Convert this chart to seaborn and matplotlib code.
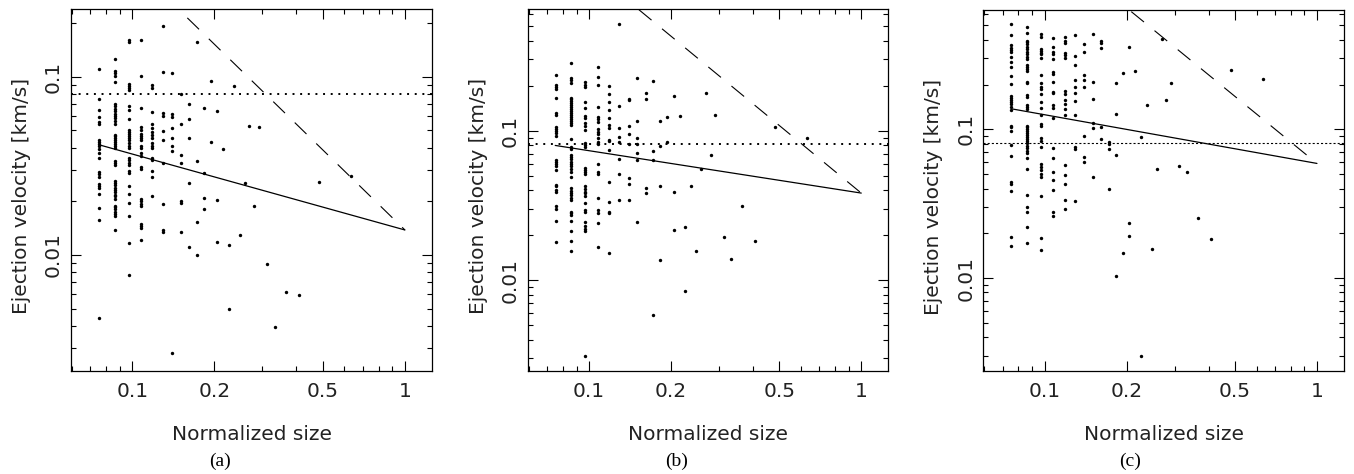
import matplotlib
matplotlib.use("Agg")
import numpy as np
import pandas as pd
import seaborn as sns
import matplotlib.pyplot as plt
from matplotlib.ticker import FixedLocator, FixedFormatter, NullFormatter, LogLocator

# ---------------- data ----------------
# normalized fragment sizes (discrete columns)
sizes = [0.0753, 0.0860, 0.0968, 0.1075, 0.1183, 0.1290, 0.1398, 0.1505, 0.1613,
         0.1720, 0.1828, 0.1935, 0.2043, 0.2151, 0.2258, 0.2366, 0.2473, 0.2581,
         0.2688, 0.2796, 0.2903, 0.3118, 0.3333, 0.3656, 0.4086, 0.4839, 0.6344]

# ejection velocities [km/s] per size column, panel (a)
vel_a = [
    [0.110, 0.0750, 0.0650, 0.0593, 0.0554, 0.0540, 0.0439, 0.0428, 0.0417, 0.0406, 0.0394,
     0.0373, 0.0352, 0.0291, 0.0284, 0.0275, 0.0251, 0.0243, 0.0237, 0.0219, 0.0184, 0.0158, 0.00441],
    [0.126, 0.108, 0.1044, 0.1004, 0.0933, 0.0702, 0.0681, 0.0661, 0.0639, 0.0620, 0.0601, 0.0583,
     0.0564, 0.0545, 0.0474, 0.0462, 0.0451, 0.0439, 0.0428, 0.0417, 0.0406, 0.0396, 0.0337, 0.0327,
     0.0318, 0.0261, 0.0254, 0.0246, 0.0237, 0.0231, 0.0224, 0.0218, 0.0213, 0.0206, 0.0189, 0.0185,
     0.0180, 0.0175, 0.0170, 0.0166, 0.0138],
    [0.160, 0.157, 0.0910, 0.0887, 0.0864, 0.0845, 0.0681, 0.0647, 0.0581, 0.0504, 0.0491, 0.0479,
     0.0466, 0.0454, 0.0443, 0.0424, 0.0411, 0.0399, 0.0351, 0.0339, 0.0329, 0.0321, 0.0297, 0.0289,
     0.0245, 0.0220, 0.0195, 0.0165, 0.0117, 0.00769],
    [0.161, 0.1004, 0.0664, 0.0519, 0.0504, 0.0477, 0.0464, 0.0452, 0.0439, 0.0410, 0.0397, 0.0371,
     0.0357, 0.0312, 0.0304, 0.0206, 0.0200, 0.0194, 0.0188, 0.0150, 0.0146, 0.0142, 0.0121],
    [0.0898, 0.0860, 0.0636, 0.0542, 0.0515, 0.0489, 0.0474, 0.0454, 0.0422, 0.0408, 0.0396, 0.0351,
     0.0342, 0.0295, 0.0272, 0.0213],
    [0.192, 0.1067, 0.0622, 0.0604, 0.0493, 0.0443, 0.0327, 0.0194, 0.0138, 0.0135],
    [0.1044, 0.0620, 0.0596, 0.0513, 0.0452, 0.0410, 0.0384, 0.00281],
    [0.0803, 0.0542, 0.0365, 0.0330, 0.0200, 0.0195, 0.0135],
    [0.0702, 0.0581, 0.0452, 0.0254, 0.0111],
    [0.157, 0.0337, 0.0153, 0.0100],
    [0.0667, 0.0289, 0.0209, 0.0181],
    [0.0942, 0.0430],
    [0.0641, 0.0203, 0.0118],
    [0.0394],
    [0.0114, 0.00495],
    [0.0887],
    [0.0130],
    [0.0253],
    [0.0529],
    [0.0189],
    [0.0519],
    [0.00887],
    [0.00393],
    [0.00622],
    [0.00596],
    [0.0255],
    [0.0279],
]

# panel (b)
vel_b = [
    [0.238, 0.201, 0.195, 0.190, 0.1655, 0.1313, 0.1273, 0.1053, 0.1026, 0.0995, 0.0965, 0.0917,
     0.0636, 0.0617, 0.0598, 0.0577, 0.0548, 0.0437, 0.0424, 0.0403, 0.0390, 0.0316, 0.0299, 0.0251, 0.0180],
    [0.285, 0.225, 0.219, 0.208, 0.167, 0.163, 0.158, 0.153, 0.1485, 0.144, 0.1396, 0.1354, 0.1313,
     0.1273, 0.1235, 0.1197, 0.1155, 0.1120, 0.1086, 0.0880, 0.0778, 0.0758, 0.0691, 0.0670, 0.0650,
     0.0620, 0.0601, 0.0577, 0.0554, 0.0534, 0.0494, 0.0413, 0.0398, 0.0382, 0.0369, 0.0354, 0.0342,
     0.0288, 0.0281, 0.0274, 0.0248, 0.0212, 0.0182, 0.0156],
    [0.212, 0.203, 0.196, 0.1556, 0.1418, 0.1260, 0.1209, 0.1126, 0.1080, 0.1016, 0.0827, 0.0802,
     0.0778, 0.0562, 0.0548, 0.0529, 0.0510, 0.0424, 0.0409, 0.0392, 0.0382, 0.0367, 0.0331, 0.0293,
     0.0284, 0.0247, 0.0229, 0.0220, 0.0213, 0.00310],
    [0.267, 0.229, 0.201, 0.1448, 0.1235, 0.1197, 0.1137, 0.1026, 0.0985, 0.0945, 0.0889, 0.0844,
     0.0818, 0.0598, 0.0529, 0.0515, 0.0354, 0.0293, 0.0281, 0.0241, 0.0168],
    [0.200, 0.177, 0.157, 0.1382, 0.1216, 0.1097, 0.1042, 0.0871, 0.0848, 0.0746, 0.0451, 0.0333,
     0.0285, 0.0280, 0.0152],
    [0.521, 0.1455, 0.1036, 0.0902, 0.0835, 0.0646, 0.0515, 0.0345],
    [0.163, 0.160, 0.1069, 0.0950, 0.0810, 0.0480, 0.0442, 0.0342],
    [0.224, 0.1167, 0.0898, 0.0810, 0.0709, 0.0636, 0.0245],
    [0.179, 0.163, 0.0417, 0.0382],
    [0.216, 0.0727, 0.0636, 0.00589],
    [0.1155, 0.0786, 0.0424, 0.0137],
    [0.1235, 0.0840],
    [0.171, 0.0392, 0.0216],
    [0.1247],
    [0.0228, 0.00849],
    [0.0424],
    [0.0156],
    [0.0554],
    [0.179],
    [0.0687],
    [0.1267],
    [0.0195],
    [0.0139],
    [0.0313],
    [0.0183],
    [0.1064],
    [0.0893],
]

# panel (c)
vel_c = [
    [0.511, 0.429, 0.367, 0.354, 0.343, 0.330, 0.308, 0.284, 0.264, 0.228, 0.203, 0.1675, 0.1625,
     0.1575, 0.1527, 0.148, 0.142, 0.1349, 0.1059, 0.1031, 0.0979, 0.0785, 0.0658, 0.0442, 0.0431,
     0.0385, 0.0190, 0.0164],
    [0.485, 0.442, 0.395, 0.385, 0.373, 0.360, 0.345, 0.333, 0.321, 0.308, 0.296, 0.272, 0.264,
     0.256, 0.247, 0.209, 0.204, 0.170, 0.166, 0.1458, 0.142, 0.1377, 0.1053, 0.1031, 0.1000, 0.0969,
     0.0940, 0.0911, 0.0884, 0.0857, 0.0831, 0.0805, 0.0773, 0.0745, 0.0719, 0.0690, 0.0638, 0.0544,
     0.0360, 0.0299, 0.0279, 0.0219, 0.0171],
    [0.436, 0.420, 0.347, 0.338, 0.328, 0.320, 0.300, 0.232, 0.204, 0.1936, 0.1877, 0.1729, 0.1535,
     0.1384, 0.1242, 0.1086, 0.1053, 0.0875, 0.0839, 0.0764, 0.0585, 0.0555, 0.0533, 0.0501, 0.0481,
     0.0354, 0.0187, 0.0154],
    [0.409, 0.360, 0.333, 0.320, 0.297, 0.242, 0.236, 0.209, 0.179, 0.1746, 0.1458, 0.1399, 0.1192,
     0.0753, 0.0641, 0.0516, 0.0456, 0.0391, 0.0278, 0.0261],
    [0.420, 0.393, 0.381, 0.325, 0.315, 0.303, 0.181, 0.172, 0.1575, 0.147, 0.1363, 0.1242, 0.0573,
     0.0491, 0.0431, 0.0333, 0.0293],
    [0.429, 0.313, 0.272, 0.215, 0.1917, 0.1755, 0.156, 0.1242, 0.0757, 0.0741, 0.0331],
    [0.373, 0.330, 0.233, 0.215, 0.1917, 0.0902, 0.0655, 0.0600],
    [0.440, 0.208, 0.160, 0.1097, 0.1021, 0.0481],
    [0.393, 0.379, 0.354, 0.1042, 0.0857],
    [0.0826, 0.0801, 0.0737, 0.0397],
    [0.206, 0.1274, 0.0676, 0.0103],
    [0.240, 0.0148],
    [0.360, 0.0233, 0.0192],
    [0.245],
    [0.0884, 0.00299],
    [0.1458],
    [0.0158],
    [0.0538],
    [0.403],
    [0.1575],
    [0.204],
    [0.0567],
    [0.0519],
    [0.0252],
    [0.0184],
    [0.249],
    [0.217],
]

# model lines (endpoints) per panel
solid_x = [[0.0754, 1.0], [0.0751, 1.0], [0.0763, 1.0]]
solid_y = [[0.0415, 0.0138], [0.0798, 0.0383], [0.137, 0.0590]]
dash_x = [[0.159, 1.0], [0.1524, 1.0], [0.208, 1.0]]
dash_y = [[0.214, 0.0138], [0.646, 0.0383], [0.619, 0.0590]]
hline_v = [0.0803, 0.0810, 0.0805]

ylims = [(0.00223, 0.240), (0.00247, 0.653), (0.00237, 0.635)]
xlim = (0.0595, 1.257)
captions = ["(a)", "(b)", "(c)"]

x_major = [0.1, 0.2, 0.5, 1.0]
x_major_labels = ["0.1", "0.2", "0.5", "1"]
x_minor = [0.06, 0.07, 0.08, 0.09, 0.3, 0.4, 0.6, 0.7, 0.8, 0.9]
y_major = [0.01, 0.1]
y_major_labels = ["0.01", "0.1"]

# ---------------- style ----------------
sns.set_style("ticks")
plt.rcParams["font.family"] = ["DejaVu Sans"]
plt.rcParams["lines.scale_dashes"] = False
TXT = "#222222"

W, H = 1354, 474
fig = plt.figure(figsize=(W / 100, H / 100), dpi=100)

ax_px = [(71, 432, 9, 371), (527.7, 888.3, 9, 371), (983.3, 1344, 10, 371)]
cap_x = [220, 676.7, 1130]
hline_styles = [dict(lw=1.4, ls=(0, (1.4, 4.1))),
                dict(lw=1.4, ls=(0, (1.4, 4.1))),
                dict(lw=0.8, ls=(0, (1.5, 1.5)))]

all_vels = [vel_a, vel_b, vel_c]

for i in range(3):
    l, r, t, b = ax_px[i]
    ax = fig.add_axes([l / W, (H - b) / H, (r - l) / W, (b - t) / H])
    ax.set_xscale("log")
    ax.set_yscale("log")

    xs, ys = [], []
    for sz, col in zip(sizes, all_vels[i]):
        xs += [sz] * len(col)
        ys += col
    df = pd.DataFrame({"size": xs, "vel": ys})

    sns.scatterplot(data=df, x="size", y="vel", ax=ax, color="black", s=6,
                    linewidth=0, legend=False, zorder=3)
    sns.lineplot(x=solid_x[i], y=solid_y[i], ax=ax, color="black", lw=0.9)
    ax.plot(dash_x[i], dash_y[i], color="black", lw=0.8, ls=(0, (11.8, 9.8)))
    ax.axhline(hline_v[i], color="black", solid_capstyle="butt",
               dash_capstyle="butt", **hline_styles[i])

    ax.set_xlim(*xlim)
    ax.set_ylim(*ylims[i])

    ax.xaxis.set_major_locator(FixedLocator(x_major))
    ax.xaxis.set_major_formatter(FixedFormatter(x_major_labels))
    ax.xaxis.set_minor_locator(FixedLocator(x_minor))
    ax.xaxis.set_minor_formatter(NullFormatter())
    ax.yaxis.set_major_locator(FixedLocator(y_major))
    ax.yaxis.set_major_formatter(FixedFormatter(y_major_labels))
    ax.yaxis.set_minor_locator(LogLocator(base=10, subs=np.arange(2, 10)))
    ax.yaxis.set_minor_formatter(NullFormatter())

    ax.tick_params(which="both", direction="in", top=True, right=True,
                   width=0.8, color="black", labelcolor=TXT, labelsize=14.5)
    ax.tick_params(which="major", length=7.2)
    ax.tick_params(which="minor", length=3.6)
    ax.tick_params(axis="x", pad=8.2)
    ax.tick_params(axis="y", pad=5.8, labelrotation=90)
    for lab in ax.get_yticklabels():
        lab.set_va("center")

    for sp in ax.spines.values():
        sp.set_linewidth(0.9)
        sp.set_color("black")

    ax.set_xlabel("Normalized size", fontsize=14.5, color=TXT)
    ax.xaxis.set_label_coords(0.5, -0.19)
    ax.xaxis.label.set_va("baseline")
    ax.set_ylabel("Ejection velocity [km/s]", fontsize=14.5, color=TXT)
    ax.yaxis.set_label_coords(-0.122, 0.483)
    ax.yaxis.label.set_va("baseline")

    fig.text(cap_x[i] / W, (H - 466) / H, captions[i], ha="center", va="baseline",
             family="Liberation Serif", fontsize=14, color="black")

fig.savefig("out.png", dpi=100)
